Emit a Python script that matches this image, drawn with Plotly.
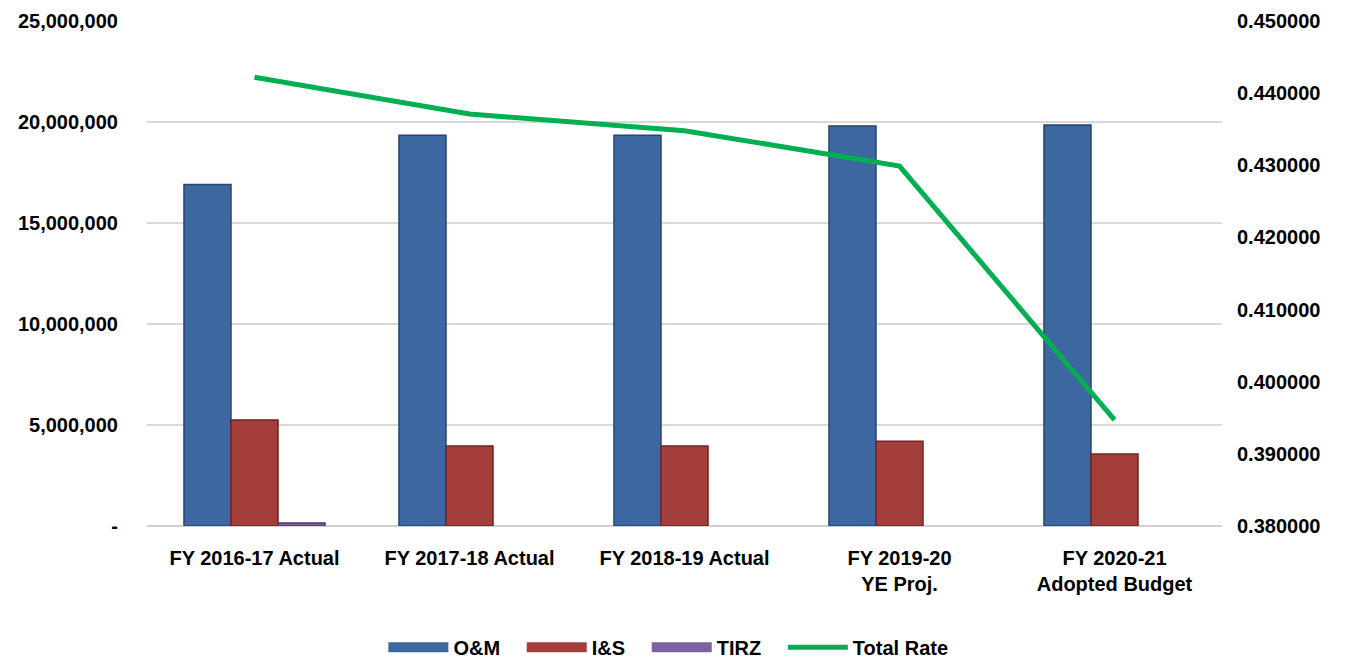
import plotly.graph_objects as go

categories = ["FY 2016-17 Actual", "FY 2017-18 Actual", "FY 2018-19 Actual",
              "FY 2019-20<br>YE Proj.", "FY 2020-21<br>Adopted Budget"]
om_values = [16900000, 19350000, 19350000, 19800000, 19850000]
is_values = [5250000, 3960000, 3960000, 4200000, 3560000]
tirz_values = [150000, 0, 0, 0, 0]
total_rate = [0.4422, 0.4371, 0.4348, 0.4299, 0.3947]

left_ticks = [0, 5000000, 10000000, 15000000, 20000000, 25000000]
left_tick_text = ["-", "5,000,000", "10,000,000", "15,000,000", "20,000,000", "25,000,000"]
right_ticks = [0.38, 0.39, 0.40, 0.41, 0.42, 0.43, 0.44, 0.45]

FONT = "Liberation Sans"
FS = 20
PAD = "\u00a0\u00a0\u00a0"
colors = {"O&M": ("#3D67A0", "#27456F"), "I&S": ("#A43E3B", "#6E2523"), "TIRZ": ("#7C62A3", "#4E3A6E")}

fig = go.Figure()
for name, vals in [("O&M", om_values), ("I&S", is_values), ("TIRZ", tirz_values)]:
    fill, edge = colors[name]
    fig.add_trace(go.Bar(name=name, x=categories, y=[v if v else None for v in vals],
                         showlegend=False, legendgroup=name,
                         marker=dict(color=fill, line=dict(color=edge, width=1.5))))
    # legend swatch (wide rectangle like the original)
    fig.add_trace(go.Scatter(name=name + PAD, x=[None], y=[None], mode="lines", legendgroup=name,
                             line=dict(color=fill, width=10)))
fig.add_trace(go.Scatter(name="Total Rate", x=categories, y=total_rate, yaxis="y2",
                         mode="lines", line=dict(color="#00B050", width=5)))

fig.update_layout(
    width=1354, height=658,
    margin=dict(l=139, r=140, t=13, b=140, autoexpand=False),
    paper_bgcolor="white", plot_bgcolor="white",
    barmode="group", bargap=0.344, bargroupgap=0,
    font=dict(family=FONT, size=FS, color="black"),
    showlegend=True,
    legend=dict(orientation="h", x=0.485, xanchor="center", y=-0.24, yanchor="middle",
                font=dict(family=FONT, size=FS, color="black", weight="bold"),
                itemwidth=60, traceorder="normal"),
    xaxis=dict(showgrid=False, showline=False, ticks="", ticklabelstandoff=18, automargin=False,
               tickfont=dict(family=FONT, size=FS, weight="bold")),
    yaxis=dict(range=[0, 25000000], tickvals=left_ticks, ticktext=left_tick_text,
               showgrid=True, gridcolor="#D9D9D9", gridwidth=2, automargin=False,
               zeroline=True, zerolinecolor="#D0D0D0", zerolinewidth=2,
               showline=False, ticks="", ticklabelstandoff=28,
               tickfont=dict(family=FONT, size=FS, weight="bold")),
    yaxis2=dict(range=[0.38, 0.45], tickvals=right_ticks, tickformat=".6f",
                overlaying="y", side="right", showgrid=False, zeroline=False, automargin=False,
                showline=False, ticks="", ticklabelstandoff=14,
                tickfont=dict(family=FONT, size=FS, weight="bold")),
)

fig.write_html("out.html")
